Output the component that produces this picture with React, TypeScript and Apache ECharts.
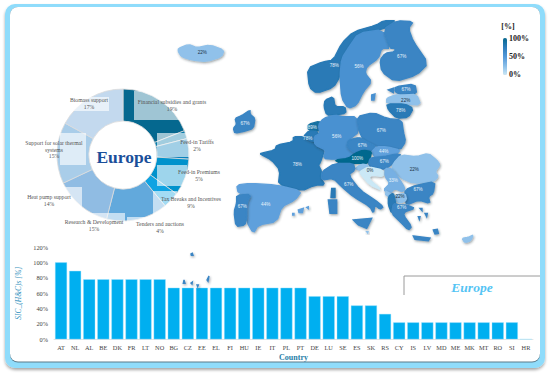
import React, { useEffect, useRef } from "react";
import * as echarts from "echarts";

const countries = ["AT","NL","AL","BE","DK","FR","LT","NO","BG","CZ","EE","EL","FI","HU","IE","IT","PL","PT","DE","LU","SE","ES","SK","RS","CY","IS","LV","MD","ME","MK","MT","RO","SI","HR"];
const sicValues = [100,89,78,78,78,78,78,78,67,67,67,67,67,67,67,67,67,67,56,56,56,44,44,33,22,22,22,22,22,22,22,22,22,0];
const yTicks = [0,20,40,60,80,100,120];

const supportNames = ["Financial subsidies and grants","Feed-in Tariffs","Feed-in Premiums","Tax Breaks and Incentives","Tenders and auctions","Research & Development","Heat pump support","Support for solar thermal systems","Biomass support"];
const supportValues = [19,2,5,9,4,15,14,15,17];
const supportColors = ["#05688f","#0a7cab","#0a82bd","#0092cc","#0fa3e2","#62a9dc","#90bce3","#a9cde9","#c3d9ee"];
const supportLines = [["Financial subsidies and grants"],["Feed-in Tariffs"],["Feed-in Premiums"],["Tax Breaks and Incentives"],["Tenders and auctions"],["Research & Development"],["Heat pump support"],["Support for solar thermal","systems"],["Biomass support"]];
const labelAnchors = [[172,102],[197,142],[199,172],[191,199],[160,224],[94,222],[49,197],[54,143],[89,100]];
const labelBoxes = [[134,91,51,29],[157,133,32,24],[157,165,30,21],[153,191,24,27],[127,217,30,10],[82,213,43,17],[62,187,20,26],[60,133,26,32],[68,97,41,14]];
const mapPalette = ["#cbe8f6", "#88bce8", "#5297d8", "#2e7dbb", "#04688e"];

const P = (s: string) => s.trim().split(/\s+/).map((p) => p.split(",").map(Number));
const soften = (ring: number[][]) => {
  if (ring.length < 5) return ring;
  const next: number[][] = [];
  ring.forEach((a, i) => {
    const b = ring[(i + 1) % ring.length];
    next.push([a[0] * 0.8 + b[0] * 0.2, a[1] * 0.8 + b[1] * 0.2]);
    next.push([a[0] * 0.2 + b[0] * 0.8, a[1] * 0.2 + b[1] * 0.8]);
  });
  return next;
};
const shapes: Record<string, string[]> = {
  IS: ["-125,145 -95,133 -70,143 -30,135 12,150 5,170 -40,185 -85,180 -115,170 -125,155"],
  IE: ["45,355 65,347 90,330 90,343 105,355 100,385 75,393 45,400 40,385 50,373"],
  NO: ["262,205 310,185 340,180 365,130 400,95 470,75 490,62 530,62 490,88 415,100 388,140 365,175 360,230 340,262 290,280 268,262"],
  SE: ["388,140 415,100 490,88 510,145 485,145 475,175 440,200 435,220 455,245 430,275 410,315 385,325 365,295 360,230 365,175","455,285 465,282 462,300 455,300"],
  FI: ["490,88 530,62 580,65 565,85 580,125 625,190 590,225 525,245 485,215 480,180 495,160 525,155 525,145 510,145"],
  DK: ["315,300 340,290 345,320 375,320 378,340 345,345 320,345 312,320"],
  EE: ["525,260 585,252 590,282 545,285 525,275","505,270 520,265 520,278"],
  LV: ["500,295 525,285 545,285 590,283 602,315 555,312 500,310"],
  LT: ["500,312 555,312 580,325 565,352 530,355 505,330"],
  FR: ["122,460 165,450 170,435 220,425 220,410 250,410 277,425 315,447 300,490 295,495 305,515 300,530 315,555 285,555 245,573 175,555 180,510 155,480 122,463","335,565 345,565 345,593 333,593"],
  NL: ["265,373 300,363 305,380 293,395 265,390"],
  BE: ["250,410 267,392 293,395 300,420 277,425"],
  LU: ["296,420 302,420 302,428 298,430"],
  DE: ["295,375 310,355 345,345 370,350 410,350 418,395 385,420 380,440 405,460 390,475 340,478 310,475 318,450 285,435 282,410 300,400"],
  PL: ["410,350 460,338 500,355 545,360 550,395 557,425 540,450 500,440 470,440 430,420 418,395"],
  CZ: ["385,420 418,412 430,420 470,440 455,455 430,450 405,460 380,440"],
  SK: ["455,455 470,440 500,440 540,450 530,462 490,470 465,472"],
  AT: ["345,480 385,475 405,460 430,450 455,455 450,475 445,490 410,490 360,490"],
  HU: ["450,475 465,472 490,470 530,462 543,465 520,490 495,508 465,505 445,495"],
  SI: ["405,505 425,492 445,495 440,510 415,510"],
  HR: ["420,515 445,500 490,510 490,530 455,525 445,535 485,570 450,555 420,520"],
  RO: ["520,490 543,465 590,470 625,460 650,480 660,495 645,515 655,530 640,545 580,550 545,535 515,510"],
  RS: ["495,505 515,505 550,555 555,570 545,575 525,565 510,580 490,570 510,550 495,530"],
  BG: ["555,570 590,555 645,545 640,580 625,590 630,610 595,600 560,615 555,595"],
  MK: ["525,585 555,580 560,600 540,610 525,600"],
  ME: ["498,574 510,580 506,590 497,584"],
  AL: ["505,590 520,578 525,600 530,625 515,640 505,615"],
  EL: ["520,610 540,615 560,615 585,625 555,635 550,645 575,680 565,690 540,665 515,640","600,625 606,625 606,632","615,640 622,640 620,650","640,690 652,688 655,700 645,702","595,650 600,650 598,658","580,708 630,714 625,722 585,718"],
  IT: ["305,515 345,490 400,490 405,510 385,525 420,570 465,600 490,620 480,628 465,615 460,640 450,620 400,590 365,560 340,535 305,540","400,660 455,655 440,685 415,675","325,600 350,600 350,640 330,640"],
  ES: ["50,555 90,550 170,555 245,573 225,600 185,620 170,665 115,675 100,700 80,665 80,610 95,585 55,580","235,630 250,625 247,638 237,638","218,640 222,640 222,645 218,645","260,622 265,620 265,626"],
  PT: ["50,585 93,583 80,610 80,655 75,675 48,680 42,635 50,610","-108,840 -105,850 -110,850","-87,849 -83,846 -84,852","-69,855 -65,855 -67,860","-39,840 -33,828 -36,844","-87,762 -83,760 -81,766 -86,766"],
  CY: ["726,715 745,712 760,705 752,722 735,728"],
  MT: ["440,695 444,695 443,699"],
};
const labelPoints: Record<string, number[]> = {
  IS:[-53,158],IE:[75,370],NO:[343,195],SE:[417,200],FI:[545,170],EE:[558,268],LV:[557,300],LT:[542,330],FR:[232,493],NL:[277,383],BE:[263,415],DE:[350,409],PL:[484,390],CZ:[427,435],SK:[491,453],AT:[412,475],HU:[493,483],HR:[450,510],RO:[583,508],RS:[520,540],BG:[594,567],MK:[540,590],EL:[545,622],IT:[386,554],ES:[137,613],PT:[67,618],
};
const serif = "'Liberation Serif', serif";

export default function App() {
  const ref = useRef<HTMLDivElement>(null);
  useEffect(() => {
    const rings = Object.fromEntries(Object.entries(shapes).map(([name, rs]) => [name, rs.map((r) => soften(P(r)))]));
    const features = Object.entries(rings).map(([name, rs]) => ({
      type: "Feature",
      properties: { name, ...(labelPoints[name] ? { cp: [labelPoints[name][0], -labelPoints[name][1]] } : {}) },
      geometry: { type: "MultiPolygon", coordinates: rs.map((r) => [r.map(([x, y]) => [x, -y])]) },
    }));
    echarts.registerMap("europe", { type: "FeatureCollection", features } as any);

    const all = Object.values(rings).flat(2) as number[][];
    const xs = all.map((p) => p[0]);
    const ys = all.map((p) => p[1]);
    const minX = Math.min(...xs), maxX = Math.max(...xs), minY = Math.min(...ys), maxY = Math.max(...ys);

    const chart = echarts.init(ref.current!, undefined, { renderer: "svg" });
    const mapData = countries.map((name, i) => ({
      name,
      value: sicValues[i],
      itemStyle: { borderColor: echarts.color.lerp(sicValues[i] / 100, mapPalette) },
      label: {
        show: !!labelPoints[name],
        color: sicValues[i] <= 22 ? "#1c3344" : "#eaf4fb",
      },
    }));
    const graphic: any[] = [
      { type: "rect", z: -10, shape: { x: 5, y: 4, width: 540, height: 364, r: 10 }, style: { fill: "#8fdcfb", shadowBlur: 3, shadowColor: "rgba(0,0,0,0.35)", shadowOffsetY: 2 } },
      { type: "rect", z: -9, shape: { x: 10, y: 7, width: 530, height: 355.5, r: 8 }, style: { fill: "#5b7a8a" } },
      { type: "rect", z: -8, shape: { x: 10, y: 7, width: 530, height: 354.5, r: 8 }, style: { fill: "#ffffff" } },
      { type: "polyline", z: 5, shape: { points: [[404, 295], [404, 276], [540, 276]] }, style: { stroke: "#9a9a9a", lineWidth: 1, fill: "none" } },
      { type: "text", z: 5, style: { x: 472, y: 287, text: "Europe", font: `italic bold 13.5px ${serif}`, fill: "#55c4f4", align: "center", verticalAlign: "middle" } },
      { type: "text", z: 5, style: { x: 124, y: 157, text: "Europe", font: `bold 17.5px ${serif}`, fill: "#1a4f9a", align: "center", verticalAlign: "middle" } },
      { type: "text", z: 5, style: { x: 508, y: 26, text: "[%]", font: `bold 8px ${serif}`, fill: "#222", align: "center", verticalAlign: "middle" } },
      { type: "text", z: 5, style: { x: 509, y: 38, text: "100%", font: `bold 8px ${serif}`, fill: "#222", verticalAlign: "middle" } },
      { type: "text", z: 5, style: { x: 509, y: 56, text: "50%", font: `bold 8px ${serif}`, fill: "#222", verticalAlign: "middle" } },
      { type: "text", z: 5, style: { x: 509, y: 74, text: "0%", font: `bold 8px ${serif}`, fill: "#222", verticalAlign: "middle" } },
    ];
    labelBoxes.forEach(([x, y, width, height]) => {
      graphic.push({ type: "rect", z: 4, shape: { x, y, width, height }, style: { fill: "rgba(255,255,255,0.62)" } });
    });
    supportLines.forEach((lines, i) => {
      const [x, y] = labelAnchors[i];
      [...lines, `${supportValues[i]}%`].forEach((text, j) => {
        graphic.push({ type: "text", z: 5, style: { x, y: y + j * 6.6, text, font: `5.7px ${serif}`, fill: "#555", align: "center", verticalAlign: "middle" } });
      });
    });

    chart.setOption({
      animation: false,
      graphic,
      grid: { left: 54, top: 247, width: 479, height: 92.3, containLabel: false },
      xAxis: {
        type: "category",
        data: countries,
        name: "Country",
        nameLocation: "middle",
        nameGap: 14,
        nameTextStyle: { color: "#1f7ea8", fontFamily: serif, fontWeight: "bold", fontSize: 8 },
        axisTick: { show: false },
        axisLine: { lineStyle: { color: "#e4e4e4" } },
        axisLabel: { interval: 0, color: "#444", fontFamily: serif, fontSize: 6.3, margin: 5 },
      },
      yAxis: {
        type: "value",
        min: 0,
        max: yTicks[yTicks.length - 1],
        interval: 20,
        name: "SIC_(H&C)s [%]",
        nameLocation: "middle",
        nameGap: 20,
        nameTextStyle: { color: "#2e8fbd", fontFamily: serif, fontStyle: "italic", fontSize: 7.5 },
        splitLine: { show: false },
        axisLine: { show: false },
        axisTick: { show: false },
        axisLabel: { color: "#444", fontFamily: serif, fontSize: 6.3, margin: 6, formatter: "{value}%" },
      },
      visualMap: {
        type: "continuous",
        seriesIndex: 2,
        min: 0,
        max: 100,
        left: 503,
        top: 38,
        padding: 0,
        itemWidth: 4,
        itemHeight: 37,
        calculable: false,
        hoverLink: false,
        text: ["", ""],
        showLabel: false,
        inRange: { color: mapPalette },
      },
      series: [
        {
          type: "bar",
          data: sicValues,
          barCategoryGap: "15%",
          z: 2,
          itemStyle: { color: "#00aff0", borderColor: "#9fe2ff", borderWidth: 0.4 },
        },
        {
          type: "pie",
          center: [123, 155],
          radius: [34, 66],
          startAngle: 90,
          clockwise: true,
          z: 2,
          silent: true,
          label: { show: false },
          labelLine: { show: false },
          itemStyle: { borderColor: "#dcdcdc", borderWidth: 0.8 },
          data: supportNames.map((name, i) => ({ name, value: supportValues[i], itemStyle: { color: supportColors[i] } })),
        },
        {
          type: "map",
          map: "europe",
          aspectScale: 1,
          left: 220 + minX / 3,
          top: minY / 3,
          width: (maxX - minX) / 3,
          height: (maxY - minY) / 3,
          roam: false,
          silent: true,
          z: 3,
          label: { show: true, formatter: "{c}%", fontSize: 4.6, fontFamily: "'Liberation Sans', sans-serif" },
          itemStyle: {
            borderWidth: 1.4,
            shadowColor: "rgba(40,50,60,0.45)",
            shadowBlur: 2,
            shadowOffsetX: 0.8,
            shadowOffsetY: 1.2,
          },
          data: mapData,
        },
      ],
    });
    return () => chart.dispose();
  }, []);
  return <div ref={ref} style={{ position: "absolute", left: 0, top: 0, width: 550, height: 375 }} />;
}
